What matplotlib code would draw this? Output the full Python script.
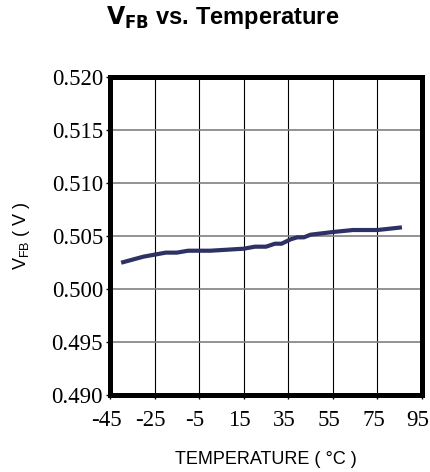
import matplotlib
matplotlib.use("Agg")
import matplotlib.pyplot as plt
from matplotlib.transforms import ScaledTranslation

# data
temperature = [-40, -30, -20, -15, -10, 0, 15, 20, 25, 29, 32, 36, 39, 42, 45, 55, 64, 75, 86]
vfb = [0.50246, 0.50303, 0.50341, 0.50341, 0.50359, 0.50359, 0.50378, 0.50397, 0.50397,
       0.50425, 0.50425, 0.50466, 0.50485, 0.50485, 0.50510, 0.50535, 0.50554, 0.50554, 0.50579]

x_ticks = [-45, -25, -5, 15, 35, 55, 75, 95]
y_ticks = [0.490, 0.495, 0.500, 0.505, 0.510, 0.515, 0.520]

plt.rcParams['mathtext.fontset'] = 'custom'
plt.rcParams['mathtext.rm'] = 'Liberation Sans'
plt.rcParams['mathtext.bf'] = 'Liberation Sans Narrow:bold'

fig = plt.figure(figsize=(4.31, 4.72), dpi=100)
ax = fig.add_axes([110 / 431, 77 / 472, 312 / 431, 318.5 / 472])

ax.plot(temperature, vfb, color='#2e3163', linewidth=3.0, solid_capstyle='butt', zorder=3)

ax.set_xlim(-45, 95)
ax.set_ylim(0.490, 0.520)
ax.set_xticks(x_ticks)
ax.set_yticks(y_ticks)
ax.set_xticklabels([str(t) for t in x_ticks])
ax.set_yticklabels([f"{v:.3f}" for v in y_ticks])

ax.tick_params(direction='out', length=3, width=1, pad=2)
ax.tick_params(axis='x', pad=8)

ax.xaxis.grid(True, color='black', linewidth=0.8)
ax.yaxis.grid(True, color='#808080', linewidth=1.2)
ax.set_axisbelow(True)

for side in ax.spines.values():
    side.set_linewidth(3.6)
    side.set_color('black')

ax.set_xlabel('TEMPERATURE ( °C )', fontfamily='Liberation Sans', fontsize=13, labelpad=14)
ax.set_ylabel(r'$\mathrm{V_{FB}}$ ( V )', fontfamily='Liberation Sans', fontsize=13, labelpad=14)

fig.text(0.517, 0.962, r'$\mathbf{V_{FB}}$ vs. Temperature', ha='center', va='center',
         fontfamily=['Liberation Sans Narrow', 'Liberation Sans'], fontweight='bold', fontsize=17)

for lbl in ax.get_xticklabels() + ax.get_yticklabels():
    lbl.set_fontfamily('Liberation Serif')
    lbl.set_fontsize(16.5)

# nudge x tick labels a bit left so the last one stays inside the figure
shift = ScaledTranslation(-4 / 100, 0, fig.dpi_scale_trans)
for tick in ax.xaxis.get_major_ticks():
    tick.label1.set_transform(tick.label1.get_transform() + shift)

fig.savefig('out.png', dpi=100)
